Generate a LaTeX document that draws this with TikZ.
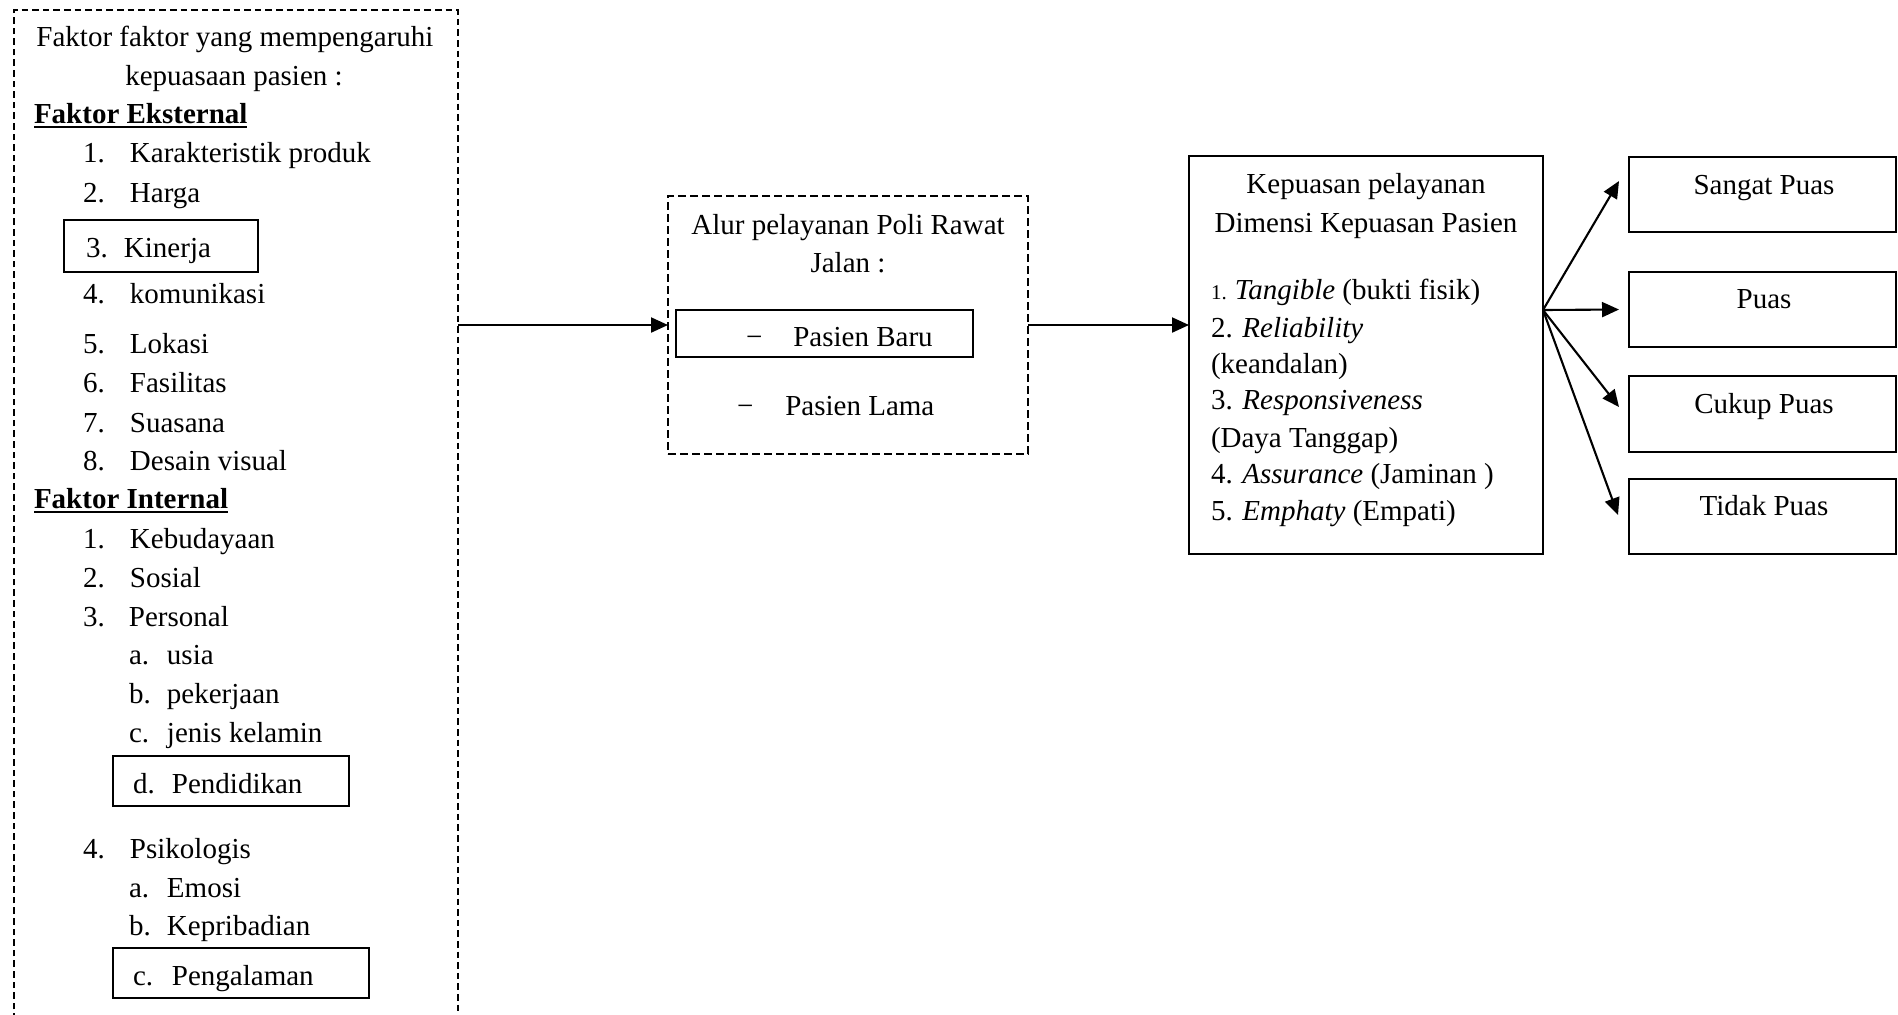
\documentclass[tikz,border=0pt]{standalone}
\usepackage{fontspec}
\setmainfont{Liberation Serif}
\usetikzlibrary{arrows.meta}
\newcommand{\myul}[1]{\setbox0\hbox{#1}\rlap{\rule[-2.4pt]{\wd0}{0.9pt}}\box0}
\begin{document}
\begin{tikzpicture}[x=0.5pt,y=-0.5pt,
  font=\fontsize{14.5}{17}\selectfont,
  lt/.style={inner sep=0pt,outer sep=0pt,anchor=base west},
  ct/.style={inner sep=0pt,outer sep=0pt,anchor=base},
  sbox/.style={draw,line width=0.9pt,inner sep=0pt,outer sep=0pt,rectangle},
  dbox/.style={draw,line width=0.75pt,dash pattern=on 3.6pt off 2pt,inner sep=0pt,outer sep=0pt,rectangle},
  arr/.style={line width=1.05pt,-{Triangle[length=8.5pt,width=7.5pt]}}]
\useasboundingbox (0,0) rectangle (1898,1014);

% left dashed frame (open at the bottom)
\draw[line width=0.75pt,dash pattern=on 3.3pt off 2pt] (14,1020) |- (458,10) -- (458,1020);
\coordinate (lbR) at (458,325);

% left texts
\node[ct] (h1) at (235,46) {Faktor faktor yang mempengaruhi};
\node[ct] (h2) at (234,85) {kepuasaan pasien :};
\node[lt] (fe) at (34,123) {\myul{\textbf{Faktor Eksternal}}};
\node[lt] (e1) at (83,162) {\makebox[23.5pt][l]{1.}Karakteristik produk};
\node[lt] (e2) at (83,202) {\makebox[23.5pt][l]{2.}Harga};
\node[sbox,minimum width=97pt,minimum height=26pt] (kin) at (161,246) {};
\node[lt] (e3) at (86,257) {\makebox[19pt][l]{3.}Kinerja};
\node[lt] (e4) at (83,303) {\makebox[23.5pt][l]{4.}komunikasi};
\node[lt] (e5) at (83,353) {\makebox[23.5pt][l]{5.}Lokasi};
\node[lt] (e6) at (83,392) {\makebox[23.5pt][l]{6.}Fasilitas};
\node[lt] (e7) at (83,432) {\makebox[23.5pt][l]{7.}Suasana};
\node[lt] (e8) at (83,470) {\makebox[23.5pt][l]{8.}Desain visual};
\node[lt] (fi) at (34,508) {\myul{\textbf{Faktor Internal}}};
\node[lt] (i1) at (83,548) {\makebox[23.5pt][l]{1.}Kebudayaan};
\node[lt] (i2) at (83,587) {\makebox[23.5pt][l]{2.}Sosial};
\node[lt] (i3) at (83,626) {\makebox[23pt][l]{3.}Personal};
\node[lt] (i3a) at (129,664) {\makebox[19pt][l]{a.}usia};
\node[lt] (i3b) at (129,703) {\makebox[19pt][l]{b.}pekerjaan};
\node[lt] (i3c) at (129,742) {\makebox[19pt][l]{c.}jenis kelamin};
\node[sbox,minimum width=118pt,minimum height=25pt] (pend) at (231,781) {};
\node[lt] (i3d) at (133,793) {\makebox[19.5pt][l]{d.}Pendidikan};
\node[lt] (i4) at (83,858) {\makebox[23.5pt][l]{4.}Psikologis};
\node[lt] (i4a) at (129,897) {\makebox[19pt][l]{a.}Emosi};
\node[lt] (i4b) at (129,935) {\makebox[19pt][l]{b.}Kepribadian};
\node[sbox,minimum width=128pt,minimum height=25pt] (peng) at (241,973) {};
\node[lt] (i4c) at (133,985) {\makebox[19.5pt][l]{c.}Pengalaman};

% middle box
\node[dbox,dash pattern=on 4pt off 2pt,minimum width=180pt,minimum height=129pt] (mid) at (848,325) {};
\node[ct] (m1) at (848,234) {Alur pelayanan Poli Rawat};
\node[ct] (m2) at (848,272) {Jalan :};
\node[sbox,minimum width=148.5pt,minimum height=23.5pt] (baru) at (824.5,333.5) {};
\node[lt] (m3) at (746,346) {−\hspace{15.5pt}Pasien Baru};
\node[lt] (m4) at (737,415) {−\hspace{16pt}Pasien Lama};

% right big box
\node[sbox,minimum width=177pt,minimum height=199pt] (kp) at (1366,355) {};
\node[ct] (k1) at (1366,193) {Kepuasan pelayanan};
\node[ct] (k2) at (1366,232) {Dimensi Kepuasan Pasien};
\node[lt] (r1) at (1211,299) {{\fontsize{10.5}{11}\selectfont 1.}\hspace{4pt}\textit{Tangible} (bukti fisik)};
\node[lt] (r2) at (1211,337) {2. \textit{Reliability}};
\node[lt] (r3) at (1211,373) {(keandalan)};
\node[lt] (r4) at (1211,409) {3. \textit{Responsiveness}};
\node[lt] (r5) at (1211,447) {(Daya Tanggap)};
\node[lt] (r6) at (1211,483) {4. \textit{Assurance} (Jaminan )};
\node[lt] (r7) at (1211,520) {5. \textit{Emphaty} (Empati)};

% outcome boxes
\node[sbox,minimum width=133.5pt,minimum height=37.5pt] (s1) at (1762.5,194.5) {};
\node[sbox,minimum width=133.5pt,minimum height=37.5pt] (s2) at (1762.5,309.5) {};
\node[sbox,minimum width=133.5pt,minimum height=38pt] (s3) at (1762.5,414) {};
\node[sbox,minimum width=133.5pt,minimum height=37.5pt] (s4) at (1762.5,516.5) {};
\node[ct] (o1) at (1764,194) {Sangat Puas};
\node[ct] (o2) at (1764,308) {Puas};
\node[ct] (o3) at (1764,413) {Cukup Puas};
\node[ct] (o4) at (1764,515) {Tidak Puas};

% connectors
\draw[arr] (lbR) -- (mid.west);
\draw[arr] (mid.east) -- (mid.east -| kp.west);
\coordinate (fan) at ([yshift=22.5pt]kp.east);
\coordinate (t1) at ([xshift=-5pt,yshift=6.75pt]s1.west);
\coordinate (t2) at ([xshift=-5pt]s2.west);
\coordinate (t3) at ([xshift=-5pt,yshift=3.5pt]s3.west);
\coordinate (t4) at ([xshift=-5.5pt,yshift=0.75pt]s4.west);
\draw[arr] (fan) -- (t1);
\draw[arr] (fan) -- (t2);
\draw[arr] (fan) -- (t3);
\draw[arr] (fan) -- (t4);
\end{tikzpicture}
\end{document}
